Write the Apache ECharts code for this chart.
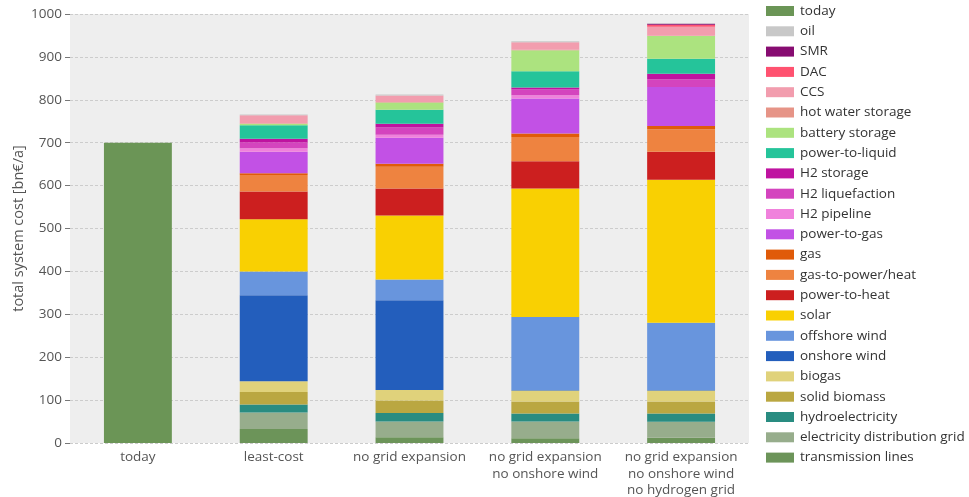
<!DOCTYPE html>
<html>
<head>
<meta charset="utf-8">
<script src="https://cdn.jsdelivr.net/npm/echarts@6/dist/echarts.min.js"></script>
<style>
  html, body { margin: 0; padding: 0; background: #ffffff; }
  #chart { width: 969px; height: 497px; }
</style>
</head>
<body>
<div id="chart"></div>
<script>
// Scenarios on the x axis
const scenarios = [
  'today',
  'least-cost',
  'no grid expansion',
  'no grid expansion\nno onshore wind',
  'no grid expansion\nno onshore wind\nno hydrogen grid'
];

// Cost components in bn€/a, one value per scenario (bottom of stack first)
const transmissionLines   = [0, 32.6, 13.2, 10.9, 12.4];
const distributionGrid    = [0, 38.7, 37.2, 39.5, 37.2];
const hydroelectricity    = [0, 18.6, 19.4, 18.6, 19.4];
const solidBiomass        = [0, 28.7, 29.4, 27.9, 27.9];
const biogas              = [0, 25.6, 24.1, 25.6, 25.6];
const onshoreWind         = [0, 200.0, 209.3, 0.8, 0.8];
const offshoreWind        = [0, 55.8, 48.8, 170.5, 157.0];
const solar               = [0, 121.7, 148.8, 299.2, 333.4];
const powerToHeat         = [0, 64.3, 62.8, 63.6, 65.0];
const gasToPowerHeat      = [0, 38.8, 51.2, 56.6, 52.8];
const gas                 = [0, 3.9, 7.0, 8.5, 7.7];
const powerToGas          = [0, 50.4, 60.4, 81.4, 90.7];
const h2Pipeline          = [0, 7.8, 7.0, 7.7, 0];
const h2Liquefaction      = [0, 14.0, 17.1, 13.3, 17.8];
const h2Storage           = [0, 8.5, 8.5, 4.6, 13.2];
const powerToLiquid       = [0, 31.0, 32.5, 38.0, 34.8];
const batteryStorage      = [0, 3.9, 17.1, 48.8, 52.8];
const hotWaterStorage     = [0, 1.0, 1.0, 1.0, 1.0];
const ccs                 = [0, 18.4, 15.0, 17.6, 20.7];
const dac                 = [0, 0, 0, 0, 4.7];
const smr                 = [0, 0, 0, 0, 2.3];
const oil                 = [0, 2.3, 2.4, 2.4, 1.5];
const today               = [700, 0, 0, 0, 0];

// Y axis ticks
const yMin = 0, yMax = 1000, yStep = 100;

const components = [
  ['transmission lines', transmissionLines, '#6c9459'],
  ['electricity distribution grid', distributionGrid, '#97ad8c'],
  ['hydroelectricity', hydroelectricity, '#298c81'],
  ['solid biomass', solidBiomass, '#baa741'],
  ['biogas', biogas, '#e0d27b'],
  ['onshore wind', onshoreWind, '#235ebc'],
  ['offshore wind', offshoreWind, '#6895dd'],
  ['solar', solar, '#f9d002'],
  ['power-to-heat', powerToHeat, '#cc1f1f'],
  ['gas-to-power/heat', gasToPowerHeat, '#ee8340'],
  ['gas', gas, '#e05b09'],
  ['power-to-gas', powerToGas, '#c251e5'],
  ['H2 pipeline', h2Pipeline, '#f081dc'],
  ['H2 liquefaction', h2Liquefaction, '#d444be'],
  ['H2 storage', h2Storage, '#bf13a0'],
  ['power-to-liquid', powerToLiquid, '#25c49a'],
  ['battery storage', batteryStorage, '#ace37f'],
  ['hot water storage', hotWaterStorage, '#e69487'],
  ['CCS', ccs, '#f29dae'],
  ['DAC', dac, '#ff5270'],
  ['SMR', smr, '#870c71'],
  ['oil', oil, '#c8c8c8'],
  ['today', today, '#6b9556']
];

const FONT = '"Open Sans", "DejaVu Sans", sans-serif';

const series = components.map(([name, values, color]) => ({
  name: name,
  type: 'bar',
  stack: 'cost',
  barWidth: '50%',
  data: values.map(v => (v === 0 ? null : v)),
  itemStyle: { color: color },
  emphasis: { disabled: true }
}));

const chart = echarts.init(document.getElementById('chart'), null, { renderer: 'canvas' });
chart.setOption({
  animation: false,
  backgroundColor: '#ffffff',
  grid: {
    left: 70, right: 220, top: 14, bottom: 54,
    outerBoundsMode: 'none',
    containLabel: false,
    show: true, backgroundColor: '#eeeeee', borderWidth: 0
  },
  legend: {
    orient: 'vertical',
    left: 761,
    top: -1,
    icon: 'rect',
    itemWidth: 28,
    itemHeight: 10,
    itemGap: 6.3,
    data: components.map(c => c[0]).reverse(),
    textStyle: { fontFamily: FONT, fontSize: 13.5, color: '#333', lineHeight: 14, padding: [0, 0, 0, 1] }
  },
  xAxis: {
    type: 'category',
    data: scenarios,
    axisLine: { show: false },
    axisTick: { show: false },
    axisLabel: {
      fontFamily: FONT, fontSize: 13.5, color: '#555',
      lineHeight: 16.5, margin: 6, interval: 0
    }
  },
  yAxis: {
    type: 'value',
    min: yMin, max: yMax, interval: yStep,
    name: 'total system cost [bn€/a]',
    nameLocation: 'middle',
    nameGap: 44,
    nameMoveOverlap: false,
    nameTextStyle: { fontFamily: FONT, fontSize: 14.5, color: '#555' },
    axisLine: { show: false },
    axisTick: { show: true, length: 5, lineStyle: { color: '#777' } },
    axisLabel: { fontFamily: FONT, fontSize: 13.5, color: '#555', margin: 8, formatter: v => String(v) },
    splitLine: { show: true, lineStyle: { color: '#cccccc', type: [3, 2], width: 1 } }
  },
  series: series
});
</script>
</body>
</html>
